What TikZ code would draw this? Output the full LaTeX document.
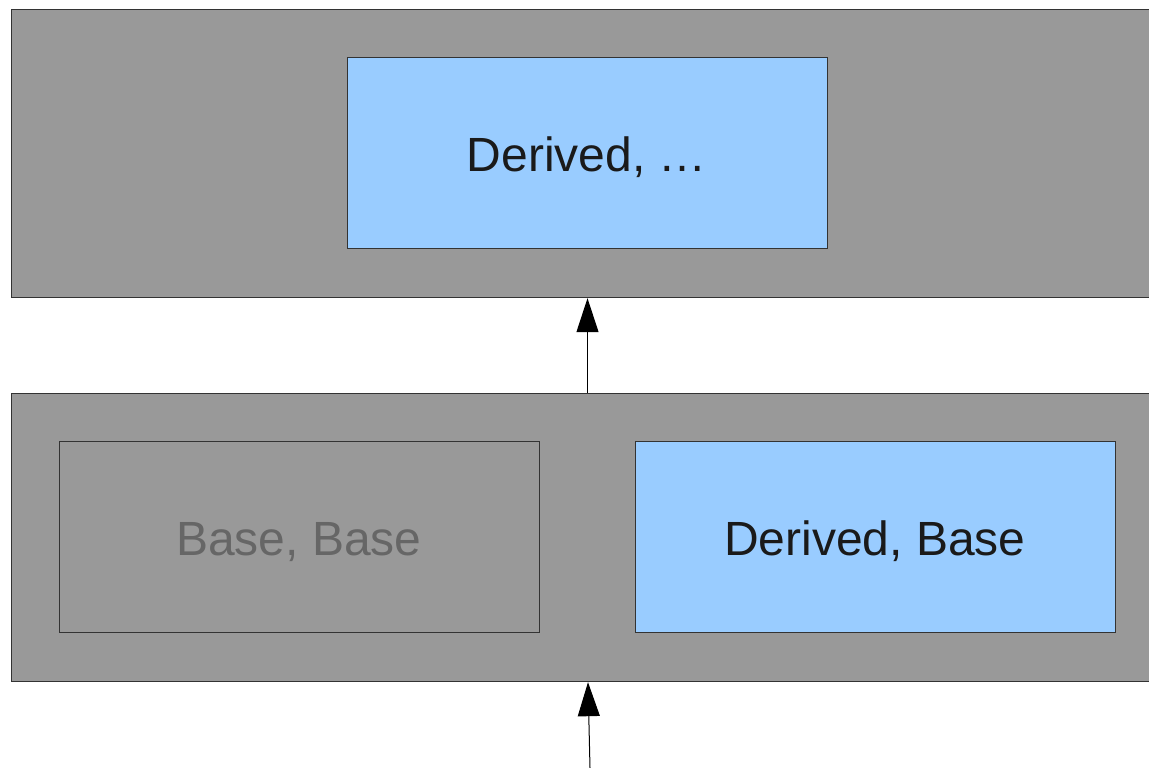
\documentclass[tikz,border=0pt]{standalone}
\usepackage{fontspec}
\setmainfont{Liberation Sans}
\usetikzlibrary{arrows.meta}
\definecolor{panelgray}{HTML}{999999}
\definecolor{lightblue}{HTML}{99CCFF}
\definecolor{txtdark}{HTML}{1A1A1A}
\definecolor{txtgray}{HTML}{666666}
\definecolor{edge}{HTML}{333333}
\tikzset{
  panel/.style={draw=edge, line width=1.2pt, fill=panelgray, rectangle, inner sep=0pt},
  innerbox/.style={draw=edge, line width=1pt, rectangle, inner sep=0pt, minimum width=480pt, minimum height=191pt},
  bluebox/.style={innerbox, fill=lightblue},
  graybox/.style={innerbox, fill=panelgray},
  label/.style={font=\fontsize{48}{56}\selectfont, anchor=base, inner sep=0pt},
  link/.style={draw=black, line width=1pt, -{Triangle[width=22pt,length=34pt]}}
}
\begin{document}
\begin{tikzpicture}[x=1pt,y=-1pt]
\useasboundingbox (0,0) rectangle (1149,768);
\clip (0,0) rectangle (1149,768);
\fill[white] (0,0) rectangle (1149,768);
% panels
\node[panel, minimum width=1160pt, minimum height=288pt, anchor=north west] (toppanel) at (11,9) {};
\node[panel, minimum width=1160pt, minimum height=288pt, anchor=north west] (botpanel) at (11,393) {};
% inner boxes
\node[bluebox, anchor=north west] (topblue) at (347,57) {};
\node[graybox, anchor=north west] (basebase) at (59,441) {};
\node[bluebox, anchor=north west] (derbase) at (635,441) {};
% labels
\node[label, text=txtdark] (t1) at (587,171) {Derived, …};
\node[label, text=txtgray] (t2) at (299,555) {Base, Base};
\node[label, text=txtdark] (t3) at (875,555) {Derived, Base};
% connectors
\coordinate (src) at (590,768);
\draw[link] (botpanel.north -| topblue.south) -- (toppanel.south -| topblue.south);
\draw[link] (src) -- (botpanel.south -| 588,0);
\end{tikzpicture}
\end{document}
